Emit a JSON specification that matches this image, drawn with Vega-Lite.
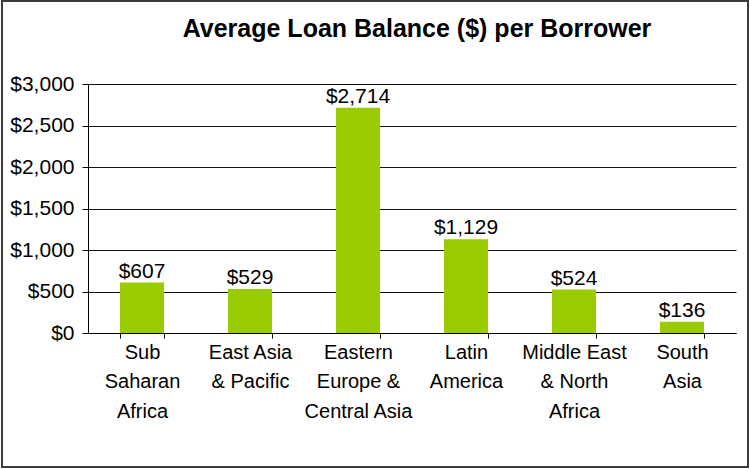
{
  "$schema": "https://vega.github.io/schema/vega-lite/v6.json",
  "width": 746,
  "height": 466,
  "autosize": {"type": "none"},
  "padding": {"left": 2, "top": 1, "right": 2, "bottom": 2},
  "background": "white",
  "title": {
    "text": "Average Loan Balance ($) per Borrower",
    "font": "Liberation Sans",
    "fontSize": 25,
    "fontWeight": "bold",
    "color": "#000000",
    "frame": "group",
    "anchor": "middle",
    "offset": -61,
    "baseline": "alphabetic",
    "dx": 42
  },
  "data": {
    "values": [
      {"region": "Sub Saharan Africa", "balance": 607},
      {"region": "East Asia & Pacific", "balance": 529},
      {"region": "Eastern Europe & Central Asia", "balance": 2714},
      {"region": "Latin America", "balance": 1129},
      {"region": "Middle East & North Africa", "balance": 524},
      {"region": "South Asia", "balance": 136}
    ]
  },
  "encoding": {
    "x": {
      "field": "region",
      "type": "nominal",
      "sort": null,
      "scale": {"range": [86, 734], "paddingInner": 0.593, "paddingOuter": 0.2965},
      "axis": {
        "title": null,
        "labelAngle": 0,
        "labelFont": "Liberation Sans",
        "labelFontSize": 20,
        "labelColor": "#000000",
        "labelLineHeight": 29.5,
        "labelBaseline": "top",
        "labelPadding": 4,
        "labelLimit": 300,
        "labelOverlap": false,
        "tickSize": 5,
        "tickColor": "#000000",
        "domainColor": "#000000",
        "tickBand": "extent",
        "offset": -134,
        "grid": false,
        "labelExpr": "datum.label == 'Sub Saharan Africa' ? ['Sub','Saharan','Africa'] : datum.label == 'East Asia & Pacific' ? ['East Asia','& Pacific'] : datum.label == 'Eastern Europe & Central Asia' ? ['Eastern','Europe &','Central Asia'] : datum.label == 'Latin America' ? ['Latin','America'] : datum.label == 'Middle East & North Africa' ? ['Middle East','& North','Africa'] : datum.label == 'South Asia' ? ['South','Asia'] : ''"
      }
    },
    "y": {
      "field": "balance",
      "type": "quantitative",
      "scale": {"domain": [0, 3000], "range": [332, 83], "nice": false, "zero": true},
      "axis": {
        "title": null,
        "values": [0, 500, 1000, 1500, 2000, 2500, 3000],
        "format": "$,.0f",
        "labelFont": "Liberation Sans",
        "labelFontSize": 21,
        "labelColor": "#000000",
        "labelPadding": 8,
        "tickSize": 6,
        "tickColor": "#000000",
        "domainColor": "#000000",
        "grid": true,
        "gridColor": "#111111",
        "gridOpacity": 1,
        "offset": -86
      }
    }
  },
  "layer": [
    {"mark": {"type": "bar", "color": "#99CC00"}},
    {
      "mark": {"type": "text", "baseline": "alphabetic", "dy": -5, "font": "Liberation Sans", "fontSize": 21, "color": "#000000"},
      "encoding": {"text": {"field": "balance", "type": "quantitative", "format": "$,.0f"}}
    }
  ],
  "config": {"view": {"stroke": "#3c3c3c", "strokeWidth": 2}}
}
